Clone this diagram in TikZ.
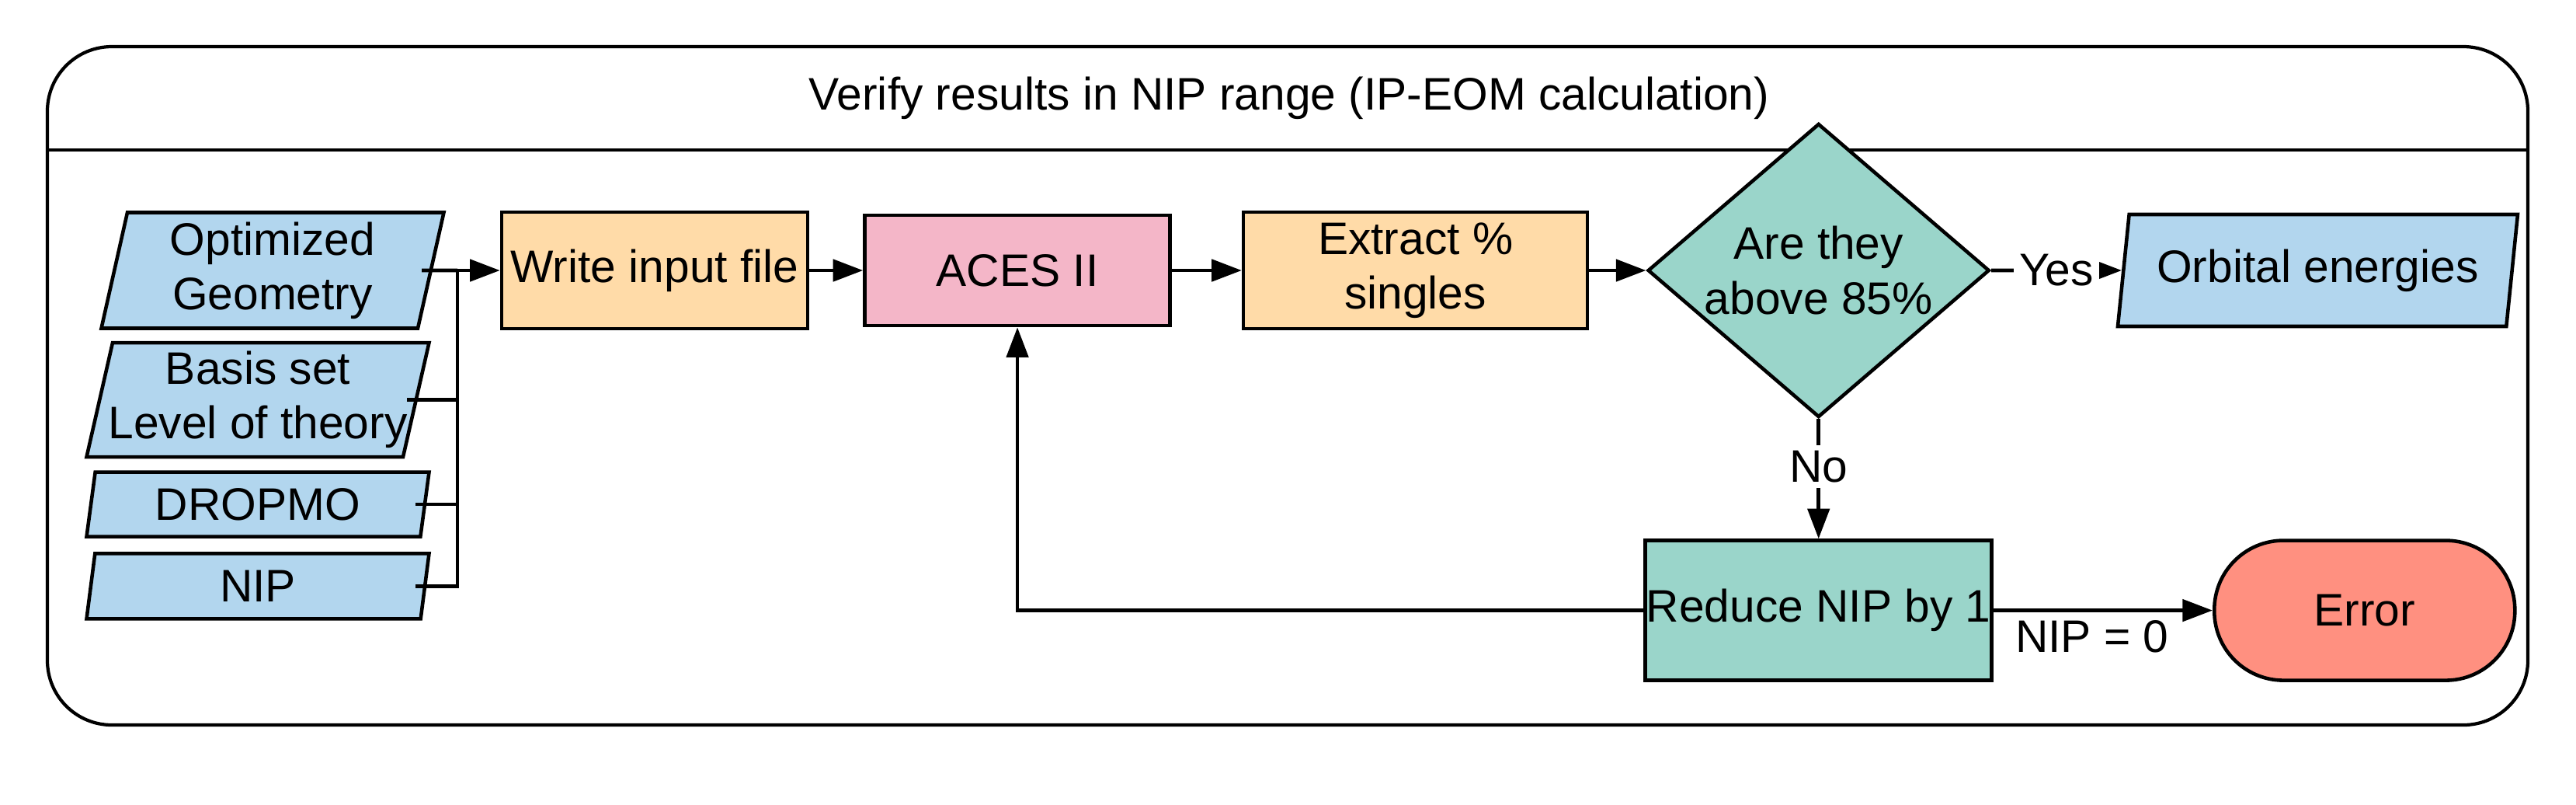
\documentclass[tikz,border=0pt]{standalone}
\usepackage{fontspec}
\setmainfont{Liberation Sans}
\usetikzlibrary{positioning,shapes.geometric,arrows.meta}

\definecolor{inputblue}{RGB}{178,214,238}
\definecolor{steporange}{RGB}{255,219,168}
\definecolor{acespink}{RGB}{244,182,200}
\definecolor{checkteal}{RGB}{154,213,202}
\definecolor{errorred}{RGB}{255,144,128}

\begin{document}
\begin{tikzpicture}[->,>={Triangle[length=11pt,width=8pt]},line width=1.3pt,
		font=\fontsize{16.7}{20}\selectfont,
		input node/.style={trapezium,trapezium left angle=75,trapezium right angle=105,
			trapezium stretches body,draw,fill=inputblue,align=center,
			inner xsep=-4pt,inner ysep=0pt,minimum width=4.41cm},
		main node/.style={rectangle,draw,fill=steporange,align=center,
			inner xsep=0pt,minimum height=1.50cm},
		check node/.style={diamond,draw,fill=checkteal,align=center,aspect=1.16,
			inner sep=0pt,minimum width=4.40cm,minimum height=3.78cm},
		end node/.style={rectangle,draw,rounded corners=0.89cm,fill=errorred,
			minimum width=3.87cm,minimum height=1.80cm}]
		
		\useasboundingbox (0,0) rectangle (33.17,-10.35);
		
		% frame and title
		\draw[-,line width=1.2pt,rounded corners=0.83cm] (0.61,-0.60) rectangle (32.55,-9.33);
		\draw[-,line width=1.2pt] (0.61,-1.93) -- (32.55,-1.93);
		\node (title) at (16.6,-1.26) {Verify results in NIP range (IP-EOM calculation)};
		
		% inputs
		\node[input node,minimum height=1.49cm] (geom) at (3.51,-3.48) {Optimized\\Geometry};
		\node[input node,minimum height=1.47cm] (basis) [below=0.14cm of geom,xshift=-0.19cm] {Basis set\\Level of theory};
		\node[input node,minimum height=0.83cm] (dropmo) [below=0.15cm of basis] {DROPMO};
		\node[input node,minimum height=0.84cm] (nip) [below=0.17cm of dropmo] {NIP};
		\coordinate (bus) at (5.89,-3.48);
		
		% steps
		\node[main node,minimum width=3.94cm] (write) at (8.43,-3.48) {Write input file};
		\node[main node,minimum width=3.93cm,minimum height=1.42cm,fill=acespink] (aces) [right=0.69cm of write] {ACES II};
		\node[main node,minimum width=4.43cm] (extract) [right=0.90cm of aces] {Extract \%\\singles};
		\node[check node] (check) [right=0.73cm of extract] {Are they\\above 85\%};
		\node[input node,minimum width=5.15cm,minimum height=1.44cm] (orbital) [right=1.68cm of check] {Orbital energies};
		\node[main node,minimum width=4.46cm,minimum height=1.80cm,fill=checkteal] (reduce) [below=1.54cm of check] {Reduce NIP by 1};
		\node[end node] (error) [right=2.82cm of reduce] {Error};
		
		\draw[-] ([xshift=-0.14cm]geom.east) -- (bus);
		\draw[-] ([xshift=-0.14cm]basis.east) -| (bus);
		\draw[-] ([xshift=-0.14cm]dropmo.east) -| (bus);
		\draw[-] ([xshift=-0.14cm]nip.east) -| (bus);
		
		\path[every node/.style={fill=white,inner sep=2pt}]
		(bus) edge (write)
		(write) edge (aces)
		(aces) edge (extract)
		(extract) edge (check)
		(check) edge node {Yes} (orbital)
		(check) edge node[pos=0.4] {No} (reduce)
		(reduce) edge node[below,pos=0.45,fill=none,inner sep=0.3em] {NIP = 0} (error);
		\draw (reduce) -| (aces);
\end{tikzpicture}
\end{document}
